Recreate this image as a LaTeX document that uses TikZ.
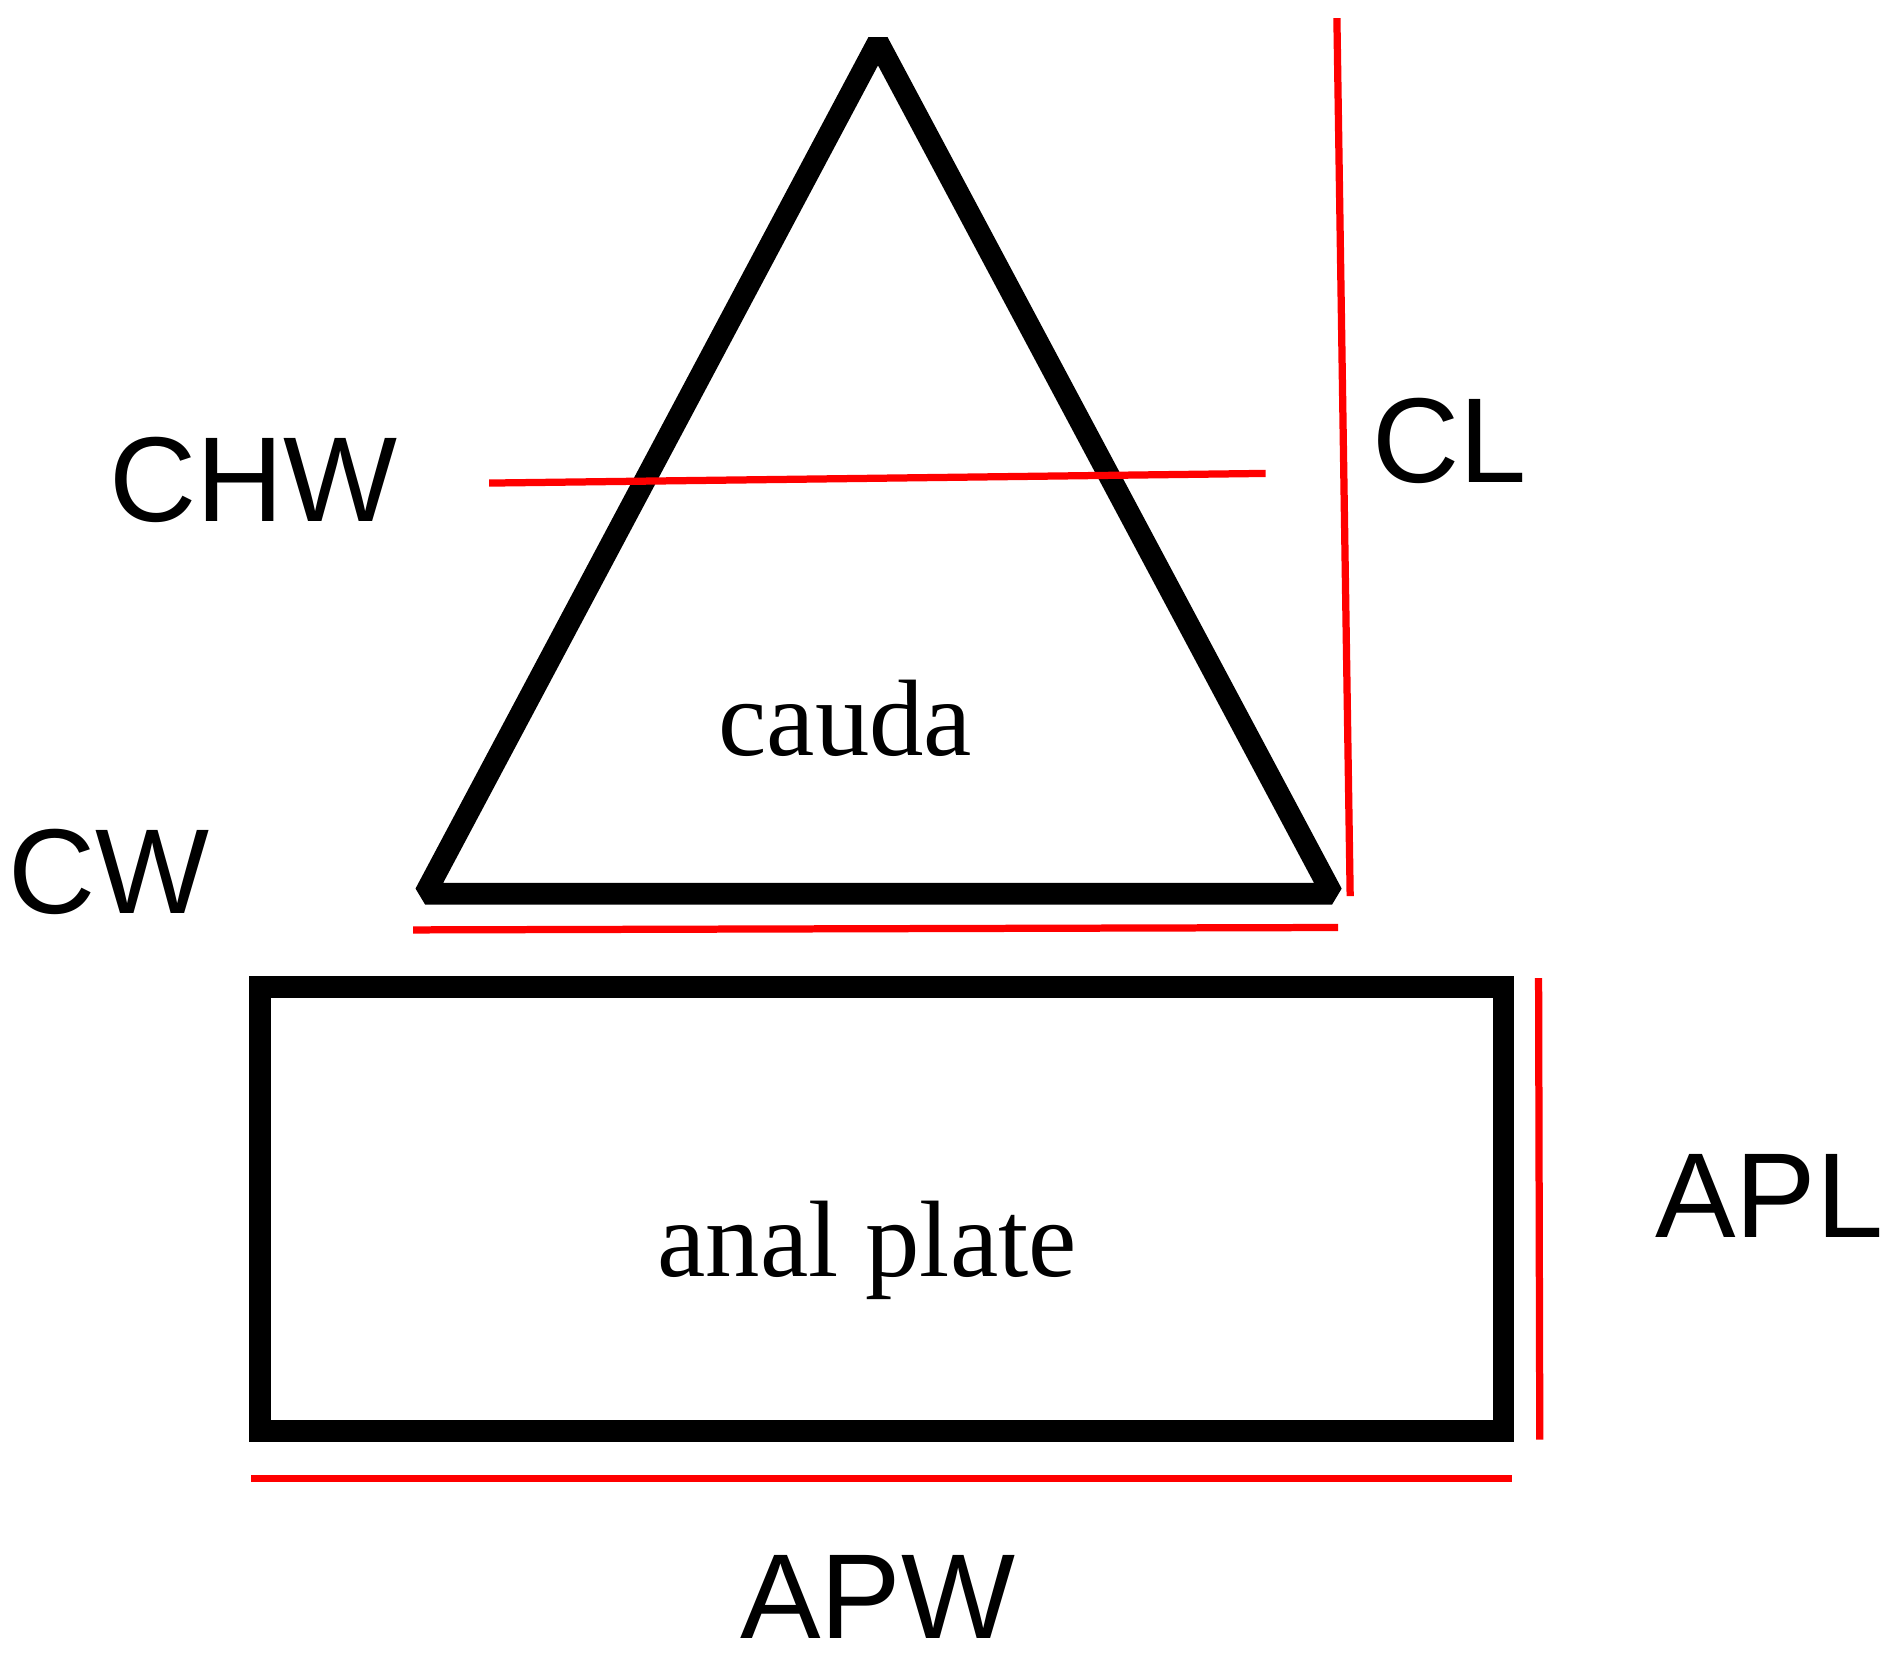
\documentclass[tikz,border=0pt]{standalone}
\usepackage{fontspec}
\setmainfont{Liberation Serif}
\newfontfamily\lsans{Liberation Sans}
\begin{document}
\begin{tikzpicture}[x=1pt,y=-1pt,
  outl/.style={line width=18pt,line join=bevel},
  meas/.style={draw=red,line width=6pt},
  lab/.style={font=\lsans\fontsize{100}{100}\selectfont,inner sep=0},
  txt/.style={font=\fontsize{90}{90}\selectfont,inner sep=0}]
\useasboundingbox (0,0) rectangle (1565,1379);
\coordinate (A) at (727,35);
\coordinate (B) at (352,740);
\coordinate (C) at (1103,740);
\draw[outl] (A) -- (B) -- (C) -- cycle;
\draw[outl,line join=miter] (215,817) rectangle (1245,1185);
\coordinate (cl1) at (1107,15); \coordinate (cl2) at (1118,742);
\draw[meas] (cl1) -- (cl2);
\coordinate (chw1) at (405,400); \coordinate (chw2) at (1048,392);
\draw[meas] (chw1) -- (chw2);
\coordinate (cw1) at (342,770); \coordinate (cw2) at (1108,768);
\draw[meas] (cw1) -- (cw2);
\coordinate (apl1) at (1274,810); \coordinate (apl2) at (1275,1192);
\draw[meas] (apl1) -- (apl2);
\coordinate (apw1) at (208,1224); \coordinate (apw2) at (1252,1224);
\draw[meas] (apw1) -- (apw2);
\node[lab] (chw) at (210,397) {CHW};
\node[lab] (cl) at (1200,365) {CL};
\node[lab] (cw) at (90,722) {CW};
\node[lab] (apl) at (1465,990) {APL};
\node[lab] (apw) at (727,1322) {APW};
\node[txt] (cauda) at (700,595) {cauda};
\node[txt] (ap) at (718,1035) {anal plate};
\end{tikzpicture}
\end{document}
